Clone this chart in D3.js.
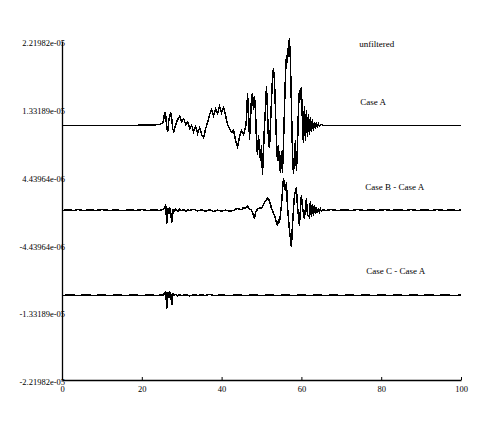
<!DOCTYPE html>
<html>
<head>
<meta charset="utf-8">
<script src="https://cdn.jsdelivr.net/npm/d3@7"></script>
<style>
body { margin: 0; background: #fff; }
text { font-family: "Liberation Serif", "DejaVu Serif", serif; fill: #000; }
</style>
</head>
<body>
<script>
// values are in units of 1e-6
var xTicks = [0, 20, 40, 60, 80, 100];
var yTicks = [-22.1982, -13.3189, -4.43964, 4.43964, 13.3189, 22.1982];
var yTickLabels = ["-2.21982e-05", "-1.33189e-05", "-4.43964e-06", "4.43964e-06", "1.33189e-05", "2.21982e-05"];

var seriesNames = ["Case A", "Case B - Case A", "Case C - Case A"];
var seriesOffsets = [11.13, 0, -11.13];

// [time, value] samples
var caseA = [
  [0, 0], [19, 0], [19.5, 0.1], [20.5, 0.05], [21.5, 0.1], [22.5, 0.05], [23.5, 0.1], [24.5, 0.15], [25.25, 0.3],
  [25.5, 0.9], [25.75, 1.8], [26, 1.3], [26.25, -0.4], [26.5, -0.8], [26.75, 0.65], [27.25, 1.7], [27.5, 0.9],
  [27.75, -0.4], [28, -0.8], [28.5, 0.13], [29, 0.8], [29.5, 1.2], [30, 0.5], [30.5, 0.9], [31, 0.13], [31.5, 0.5],
  [32, -0.4], [32.5, 0], [33, -0.8], [33.5, -0.1], [34, -1.05], [34.5, -0.26], [35, -1.2], [35.5, -1.6], [36, -0.4],
  [36.5, 0.4], [37, 1.45], [37.5, 2.1], [38, 1.3], [38.5, 2.2], [39, 1.6], [39.5, 2.5], [40, 1.7], [40.5, 2.35],
  [41, 1.3], [41.5, 0.13], [42, -0.4], [42.5, -0.9], [43, -0.65], [43.5, -1.96], [44, -2.75], [44.5, -1.44],
  [45, -0.65], [45.5, -1.2], [46, -0.26], [46.25, 0.9], [46.5, 4.2], [46.75, 1.7], [47, -1.83], [47.25, 0.9],
  [47.5, 3.7], [47.75, 4.2], [48, 2.0], [48.25, 3.9], [48.5, 1.7], [48.75, -1.96], [49, -3.9], [49.25, -1.3],
  [49.5, -3.3], [49.75, -4.6], [50, -2.6], [50.25, -6.5], [50.5, -3.3], [50.75, 0], [51, 2.2], [51.25, 5.2],
  [51.5, 2.0], [51.75, -1.96], [52, -3.0], [52.25, 0], [52.5, 3.3], [52.75, 6.15], [53, 7.5], [53.25, 5.9],
  [53.5, 2.0], [53.75, -1.96], [54, -4.6], [54.25, -2.6], [54.5, -5.2], [54.75, -6.15], [55, -3.3], [55.25, -6.15],
  [55.5, -2.6], [55.75, 2.0], [56, 6.5], [56.25, 9.2], [56.5, 8.25], [56.75, 10.5], [57, 11.4], [57.25, 8.5],
  [57.5, 2.6], [57.75, -3.3], [58, -6.3], [58.25, -4.6], [58.5, -1.96], [58.75, -5.9], [59, -3.3], [59.25, 2.0],
  [59.5, 4.6], [59.75, 3.3], [60, 5.1], [60.25, 0.65], [60.5, -2.35], [60.75, 2.6], [61, -1.96], [61.25, 2.0],
  [61.5, -1.44], [61.75, 1.45], [62, -1.2], [62.25, 1.05], [62.5, -0.9], [62.75, 0.8], [63, -0.65], [63.25, 0.5],
  [63.5, -0.4], [63.75, 0.4], [64, -0.26], [64.25, 0.26], [64.5, -0.13], [65, 0.13], [65.5, 0], [100, 0]
];

var caseB = [
  [0, 0], [1.5, 0.1], [3, 0], [4, 0.12], [5.5, -0.02], [7, 0.1], [8.5, 0], [10, 0.12], [12, 0], [13.5, 0.1],
  [15, -0.03], [17, 0.1], [18.5, 0], [20, 0.12], [21.5, 0], [23, 0.1], [24.5, 0], [25.5, 0.2], [26, 0.65],
  [26.25, -1.7], [26.5, 0.3], [26.75, -0.5], [27, 0.4], [27.25, -0.3], [27.5, -1.6], [27.75, 0.2], [28, -0.2],
  [28.5, 0.2], [29, -0.1], [29.5, 0.15], [30, 0], [30.5, 0.1], [31, -0.1], [31.5, 0.1], [32, 0], [33, 0.15],
  [34, -0.05], [35, 0.1], [36, -0.1], [37, 0.1], [38, -0.15], [39, 0.05], [40, -0.1], [41, 0.05], [42, -0.1],
  [43, 0], [43.5, 0.2], [44, 0.25], [45, 0.1], [45.5, 0.4], [46, 0.3], [46.5, 0.55], [47, 0.2], [47.5, 0.05],
  [48, -0.6], [48.25, -1.05], [48.5, -0.3], [49, 0.2], [49.5, 0.3], [50, 0.3], [50.75, 1.05], [51.5, 1.6],
  [52, 1.3], [52.5, 0.3], [53.25, -0.65], [54, -1.96], [54.25, -1.2], [54.5, -1.6], [55, 0.65], [55.25, 2.5],
  [55.5, 4.2], [55.75, 3.5], [56, 2.5], [56.25, 3.7], [56.5, 0.65], [57, -2.6], [57.5, -4.8], [57.75, -2.0],
  [58.25, 2.0], [58.75, 3.0], [59, 0.65], [59.5, -1.96], [60, 2.0], [60.25, 0.5], [60.75, -1.05], [61.25, 1.6],
  [61.5, -0.5], [62, -0.9], [62.25, 1.2], [62.5, -0.8], [62.75, 0.9], [63, -0.65], [63.25, 0.65], [63.5, -0.5],
  [63.75, 0.5], [64, -0.35], [64.25, 0.3], [64.5, -0.2], [64.75, 0.2], [65, -0.1], [65.5, 0.1], [66, 0],
  [67.5, 0.12], [69, 0], [71, 0.1], [72.5, 0], [74, 0.12], [76, 0], [77.5, 0.1], [79, 0], [81, 0.12], [82.5, 0],
  [84, 0.1], [86, 0], [87.5, 0.12], [89, 0], [91, 0.1], [92.5, 0], [94, 0.12], [96, 0], [97.5, 0.1], [99, 0],
  [100, 0.05]
];

var caseC = [
  [0, 0], [2, 0.07], [4, 0], [6, 0.07], [8, 0], [10, 0.07], [12, 0], [14, 0.07], [16, 0], [18, 0.07], [20, 0],
  [22, 0.07], [24, 0], [25.5, 0.1], [25.75, 0.4], [26, 0.5], [26.25, -1.7], [26.5, 0.5], [26.75, -0.3], [27, 0.4],
  [27.25, 0.2], [27.5, -1.3], [27.75, 0.3], [28, 0], [28.5, 0.15], [29, -0.05], [29.5, 0.12], [30, 0], [31, 0.1],
  [32, -0.05], [33, 0.1], [34, 0], [35, 0.08], [36, 0], [37, 0.15], [38, 0], [40, 0.05], [42, 0], [44, 0.07],
  [46, 0], [48, 0.07], [50, 0], [52, 0.07], [54, 0], [56, 0.07], [58, 0], [60, 0.07], [62, 0], [64, 0.07], [66, 0],
  [68, 0.07], [70, 0], [72, 0.07], [74, 0], [76, 0.07], [78, 0], [80, 0.07], [82, 0], [84, 0.07], [86, 0],
  [88, 0.07], [90, 0], [92, 0.07], [94, 0], [96, 0.07], [98, 0], [100, 0.05]
];

var width = 485, height = 422;
var margin = {top: 41, right: 24, bottom: 42, left: 62};

var svg = d3.select("body").append("svg")
  .attr("width", width)
  .attr("height", height);

var x = d3.scaleLinear().domain([0, 100]).range([margin.left, width - margin.right]);
var y = d3.scaleLinear().domain([-22.1982, 22.1982]).range([height - margin.bottom, margin.top]);

// x axis, ticks point up into the plot
var xAxis = svg.append("g")
  .attr("transform", "translate(0," + y(-22.1982) + ")")
  .call(d3.axisBottom(x).tickValues(xTicks).tickSizeInner(-3).tickSizeOuter(0).tickPadding(5.5));
xAxis.select(".domain").attr("stroke-width", 1.3);
xAxis.selectAll("text").style("font-size", "8.5px").attr("fill", "#000");

// y axis, labels only
var yAxis = svg.append("g")
  .attr("transform", "translate(" + x(0) + ",0)")
  .call(d3.axisLeft(y).tickValues(yTicks).tickSize(0).tickPadding(-3)
    .tickFormat(function(d, i) { return yTickLabels[i]; }));
yAxis.select(".domain").attr("stroke-width", 1.3);
yAxis.selectAll("text").style("font-size", "8.5px").attr("fill", "#000").attr("dy", "0.55em");

var line = d3.line()
  .x(function(d) { return x(d[0]); });

var traces = [caseA, caseB, caseC];
traces.forEach(function(data, i) {
  line.y(function(d) { return y(d[1] + seriesOffsets[i]); });
  svg.append("path")
    .datum(data)
    .attr("fill", "none")
    .attr("stroke", "#000")
    .attr("stroke-width", 1.5)
    .attr("shape-rendering", "crispEdges")
    .attr("d", line);
});

// annotations
svg.append("text")
  .attr("x", x(74.5))
  .attr("y", y(22.1982) + 6)
  .style("font-size", "9px")
  .text("unfiltered");

var labelX = [74.75, 76, 76.25];
seriesNames.forEach(function(name, i) {
  svg.append("text")
    .attr("x", x(labelX[i]))
    .attr("y", y(seriesOffsets[i]) - 21)
    .style("font-size", "9px")
    .text(name);
});
</script>
</body>
</html>
